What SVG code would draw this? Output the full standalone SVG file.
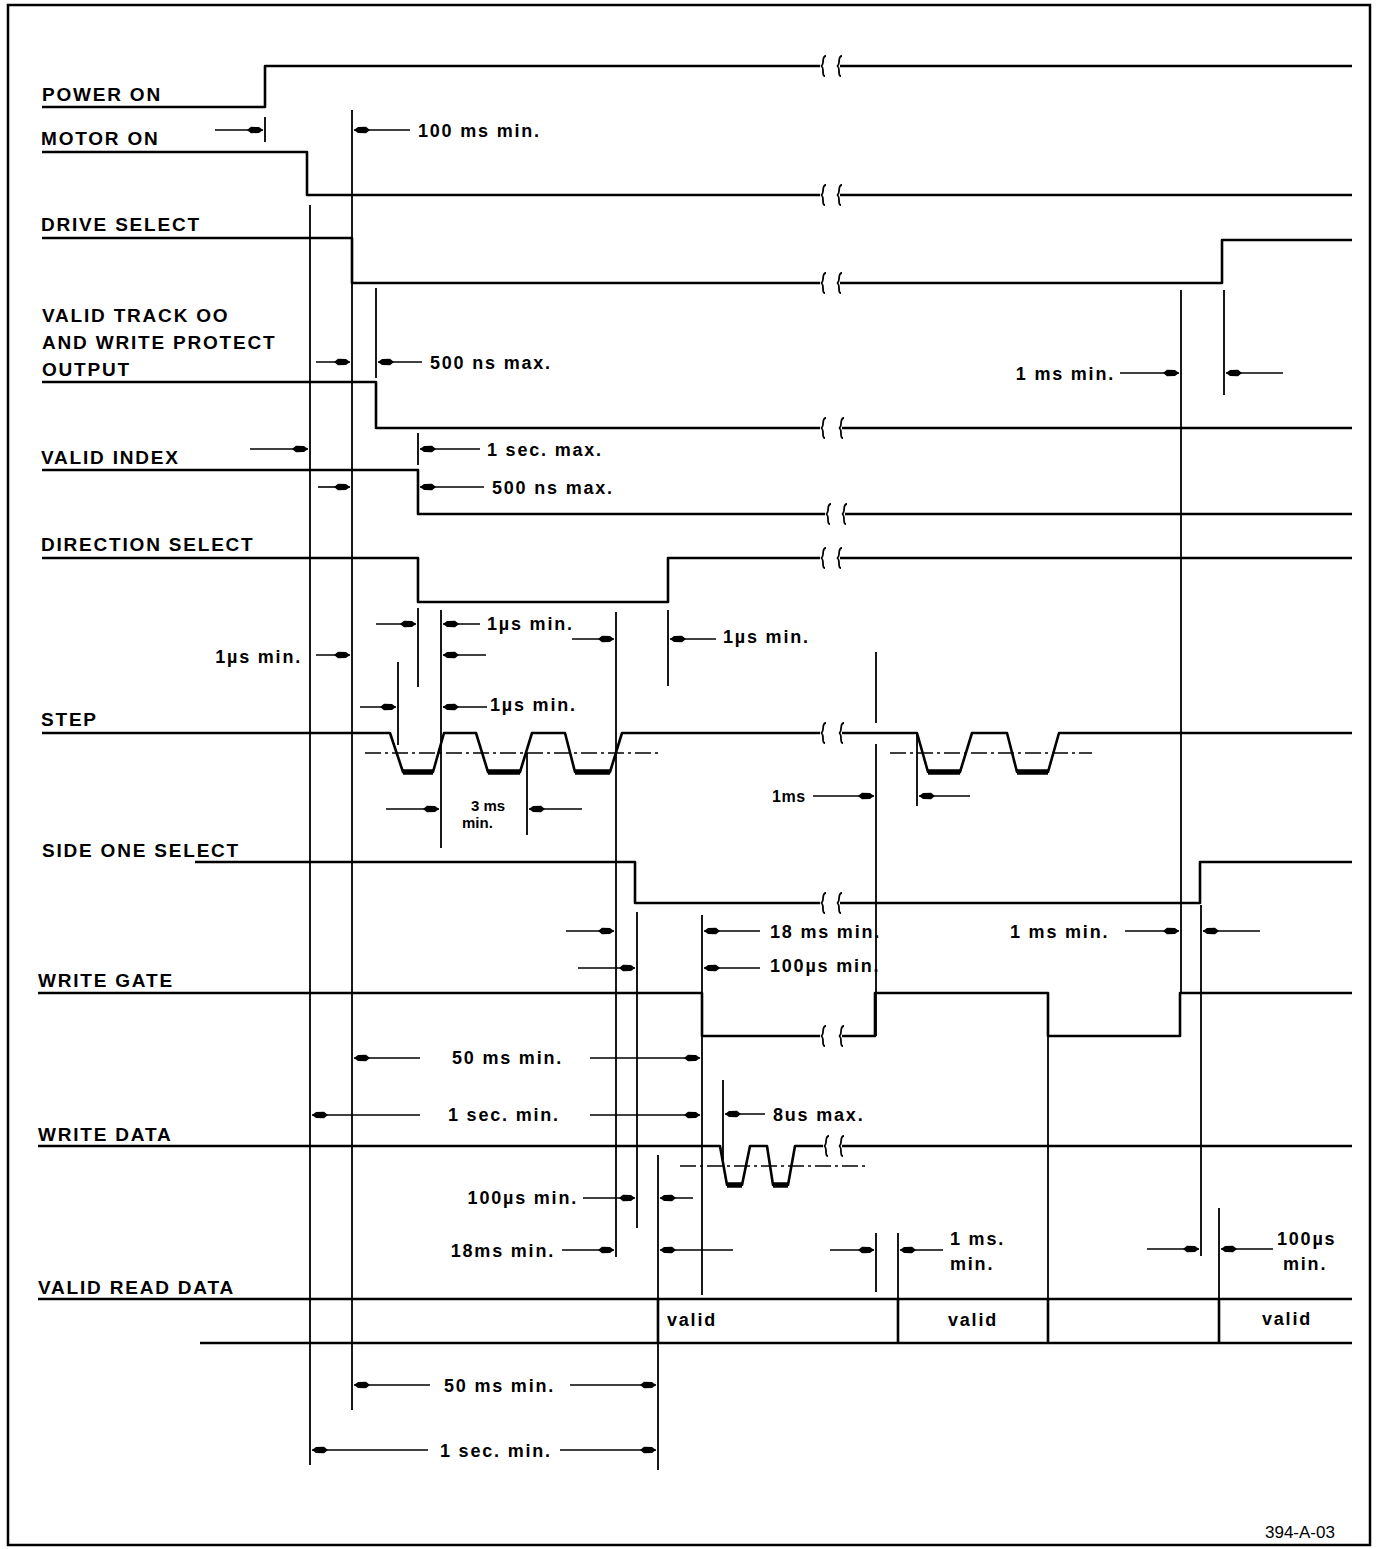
<svg xmlns="http://www.w3.org/2000/svg" xmlns:xlink="http://www.w3.org/1999/xlink" width="1376" height="1549" viewBox="0 0 1376 1549">
<style>
text{font-family:"Liberation Sans",Arial,Helvetica,sans-serif;fill:#000}
.lbl{font-size:19px;font-weight:bold;letter-spacing:1.8px}
.t{font-size:18px;font-weight:bold;letter-spacing:1.8px}
.sm{font-size:15px;font-weight:900}
.sig{fill:none;stroke:#000;stroke-width:2.6;stroke-linejoin:round}
.low{fill:none;stroke:#000;stroke-width:5.5}
.ref{fill:none;stroke:#000;stroke-width:1.8}
.dim{fill:none;stroke:#000;stroke-width:1.6;marker-end:url(#ah)}
.th{fill:none;stroke:#000;stroke-width:1.5;stroke-dasharray:16 4 3 4}
.brk{fill:none;stroke:#000;stroke-width:1.8}
</style>
<defs>
<marker id="ah" markerUnits="userSpaceOnUse" markerWidth="18" markerHeight="8" refX="16" refY="4" orient="auto">
<path d="M0,4 L4,0.8 L12,1 L16,4 L12,7 L4,7.2 Z" fill="#000"/>
</marker>
<path id="brk" d="M3,-10 C-2,-10 2,-1 -2,0 C2,1 -2,10 2,10"/>
</defs>
<rect x="8" y="5" width="1362" height="1540" fill="none" stroke="#000" stroke-width="2.5"/>

<g id="power-on">
<text class="lbl" x="42" y="101">POWER ON</text>
<path class="sig" d="M42,107 H265 V66 H820 M840,66 H1352"/>
<use href="#brk" class="brk" x="823" y="66"/><use href="#brk" class="brk" x="839" y="66"/>
</g>
<g id="motor-on">
<text class="lbl" x="41" y="145">MOTOR ON</text>
<path class="sig" d="M42,152 H307 V195 H820 M840,195 H1352"/>
<use href="#brk" class="brk" x="823" y="195"/><use href="#brk" class="brk" x="839" y="195"/>
</g>
<g id="drive-select">
<text class="lbl" x="41" y="231">DRIVE SELECT</text>
<path class="sig" d="M42,238 H352 V283 H820 M840,283 H1222 V240 H1352"/>
<use href="#brk" class="brk" x="823" y="283"/><use href="#brk" class="brk" x="839" y="283"/>
</g>
<g id="valid-track">
<text class="lbl" x="42" y="322">VALID TRACK OO</text>
<text class="lbl" x="42" y="349">AND WRITE PROTECT</text>
<text class="lbl" x="42" y="376">OUTPUT</text>
<path class="sig" d="M42,382 H376 V428 H820 M842,428 H1352"/>
<use href="#brk" class="brk" x="823" y="428"/><use href="#brk" class="brk" x="841" y="428"/>
</g>
<g id="valid-index">
<text class="lbl" x="41" y="464">VALID INDEX</text>
<path class="sig" d="M42,470 H418 V514 H825 M845,514 H1352"/>
<use href="#brk" class="brk" x="828" y="514"/><use href="#brk" class="brk" x="844" y="514"/>
</g>
<g id="direction-select">
<text class="lbl" x="41" y="551">DIRECTION SELECT</text>
<path class="sig" d="M42,558 H418 V602 H668 V558 H820 M840,558 H1352"/>
<use href="#brk" class="brk" x="823" y="558"/><use href="#brk" class="brk" x="839" y="558"/>
</g>
<g id="step">
<text class="lbl" x="41" y="726">STEP</text>
<path class="sig" d="M42,733 H390 L403,772 H433 L444,733 H476 L488,772 H520 L532,733 H565 L575,772 H610 L622,733 H820 M842,733 H917 L928,772 H960 L972,733 H1007 L1017,772 H1048 L1059,733 H1352"/>
<path class="low" d="M403,772 H433 M488,772 H520 M575,772 H610 M928,772 H960 M1017,772 H1048"/>
<use href="#brk" class="brk" x="823" y="733"/><use href="#brk" class="brk" x="841" y="733"/>
<path class="th" d="M365,753 H662 M890,753 H1092"/>
</g>
<g id="side-one-select">
<text class="lbl" x="42" y="857">SIDE ONE SELECT</text>
<path class="sig" d="M195,862 H635 V903 H820 M840,903 H1200 V862 H1352"/>
<use href="#brk" class="brk" x="823" y="903"/><use href="#brk" class="brk" x="839" y="903"/>
</g>
<g id="write-gate">
<text class="lbl" x="38" y="987">WRITE GATE</text>
<path class="sig" d="M38,993 H702 V1036 H820 M842,1036 H875 V993 H1048 V1036 H1180 V993 H1352"/>
<use href="#brk" class="brk" x="823" y="1036"/><use href="#brk" class="brk" x="841" y="1036"/>
</g>
<g id="write-data">
<text class="lbl" x="38" y="1141">WRITE DATA</text>
<path class="sig" d="M38,1146 H720 L727,1185 H742 L750,1146 H767 L773,1185 H788 L795,1146 H823 M842,1146 H1352"/>
<path class="low" d="M727,1185 H742 M773,1185 H788"/>
<use href="#brk" class="brk" x="826" y="1146"/><use href="#brk" class="brk" x="841" y="1146"/>
<path class="th" d="M680,1166 H865"/>
</g>
<g id="valid-read-data">
<text class="lbl" x="38" y="1294">VALID READ DATA</text>
<path class="sig" d="M38,1299 H1352 M200,1343 H1352 M658,1299 V1343 M898,1299 V1343 M1048,1299 V1343 M1219,1299 V1343"/>
<text class="t" x="667" y="1326">valid</text>
<text class="t" x="948" y="1326">valid</text>
<text class="t" x="1262" y="1325">valid</text>
</g>

<g id="connectors">
<path class="ref" d="M265,117 V142 M310,205 V1465 M352,110 V1410 M376,288 V378 M418,433 V465 M418,608 V687 M398,662 V745 M441,610 V848 M527,753 V835 M616,612 V1257 M637,912 V1228 M668,610 V686 M702,915 V1295 M658,1155 V1470 M723,1080 V1160 M876,652 V723 M876,744 V1036 M876,1233 V1292 M898,1233 V1299 M917,733 V806 M1048,1036 V1299 M1181,290 V993 M1224,290 V395 M1201,905 V1256 M1219,1208 V1299"/>
<path class="dim" d="M215,130 H263"/>
<path class="dim" d="M410,130 H354"/>
<path class="dim" d="M316,362 H350"/>
<path class="dim" d="M422,362 H378"/>
<path class="dim" d="M1120,373 H1179"/>
<path class="dim" d="M1283,373 H1226"/>
<path class="dim" d="M250,449 H308"/>
<path class="dim" d="M480,449 H420"/>
<path class="dim" d="M318,487 H350"/>
<path class="dim" d="M484,487 H420"/>
<path class="dim" d="M376,624 H416"/>
<path class="dim" d="M480,624 H443"/>
<path class="dim" d="M486,655 H443"/>
<path class="dim" d="M316,655 H350"/>
<path class="dim" d="M360,707 H396"/>
<path class="dim" d="M487,707 H443"/>
<path class="dim" d="M572,639 H614"/>
<path class="dim" d="M716,639 H670"/>
<path class="dim" d="M386,809 H439"/>
<path class="dim" d="M582,809 H529"/>
<path class="dim" d="M813,796 H874"/>
<path class="dim" d="M970,796 H919"/>
<path class="dim" d="M566,931 H614"/>
<path class="dim" d="M578,968 H635"/>
<path class="dim" d="M760,931 H704"/>
<path class="dim" d="M760,968 H704"/>
<path class="dim" d="M1125,931 H1179"/>
<path class="dim" d="M1260,931 H1203"/>
<path class="dim" d="M420,1058 H354"/>
<path class="dim" d="M590,1058 H700"/>
<path class="dim" d="M420,1115 H312"/>
<path class="dim" d="M590,1115 H700"/>
<path class="dim" d="M765,1114 H725"/>
<path class="dim" d="M583,1198 H635"/>
<path class="dim" d="M693,1198 H660"/>
<path class="dim" d="M562,1250 H614"/>
<path class="dim" d="M733,1250 H660"/>
<path class="dim" d="M830,1250 H874"/>
<path class="dim" d="M943,1250 H900"/>
<path class="dim" d="M1147,1249 H1199"/>
<path class="dim" d="M1273,1249 H1221"/>
<path class="dim" d="M430,1385 H354"/>
<path class="dim" d="M570,1385 H656"/>
<path class="dim" d="M428,1450 H312"/>
<path class="dim" d="M560,1450 H656"/>
</g>

<g id="labels">
<text class="t" x="418" y="137">100 ms min.</text>
<text class="t" x="430" y="369">500 ns max.</text>
<text class="t" x="1115" y="380" text-anchor="end">1 ms min.</text>
<text class="t" x="487" y="456">1 sec. max.</text>
<text class="t" x="492" y="494">500 ns max.</text>
<text class="t" x="487" y="630">1µs min.</text>
<text class="t" x="302" y="663" text-anchor="end">1µs min.</text>
<text class="t" x="490" y="711">1µs min.</text>
<text class="t" x="723" y="643">1µs min.</text>
<text class="sm" x="471" y="811">3 ms</text>
<text class="sm" x="462" y="828">min.</text>
<text class="t" x="772" y="802" style="font-size:16px;letter-spacing:0.5px">1ms</text>
<text class="t" x="770" y="938">18 ms min.</text>
<text class="t" x="770" y="972">100µs min.</text>
<text class="t" x="1010" y="938">1 ms  min.</text>
<text class="t" x="452" y="1064">50 ms min.</text>
<text class="t" x="448" y="1121">1 sec. min.</text>
<text class="t" x="773" y="1121">8us max.</text>
<text class="t" x="578" y="1204" text-anchor="end">100µs min.</text>
<text class="t" x="555" y="1257" text-anchor="end">18ms  min.</text>
<text class="t" x="950" y="1245">1 ms.</text>
<text class="t" x="950" y="1270">min.</text>
<text class="t" x="1277" y="1245">100µs</text>
<text class="t" x="1283" y="1270">min.</text>
<text class="t" x="444" y="1392">50 ms min.</text>
<text class="t" x="440" y="1457">1 sec. min.</text>
<text x="1265" y="1538" style="font-size:17px">394-A-03</text>
</g>
</svg>
